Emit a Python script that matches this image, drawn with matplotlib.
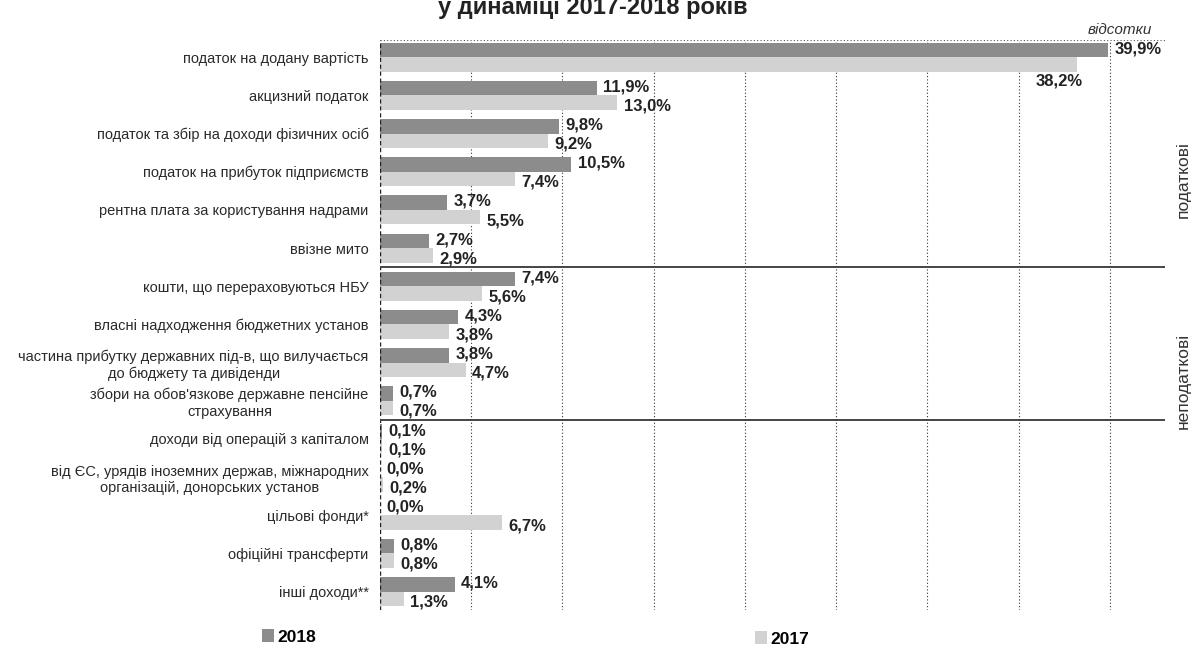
import numpy as np
import matplotlib
matplotlib.use("Agg")
import matplotlib.pyplot as plt

plt.rcParams['font.family'] = ['Liberation Sans', 'DejaVu Sans']

# Data
categories = [
    'податок на додану вартість',
    'акцизний податок',
    'податок та збір на доходи фізичних осіб',
    'податок на прибуток підприємств',
    'рентна плата за користування надрами',
    'ввізне мито',
    'кошти, що перераховуються НБУ',
    'власні надходження бюджетних установ',
    'частина прибутку державних під-в, що вилучається\nдо бюджету та дивіденди',
    "збори на обов'язкове державне пенсійне\nстрахування",
    'доходи від операцій з капіталом',
    'від ЄС, урядів іноземних держав, міжнародних\nорганізацій, донорських установ',
    'цільові фонди*',
    'офіційні трансферти',
    'інші доходи**',
]
values_2018 = [39.9, 11.9, 9.8, 10.5, 3.7, 2.7, 7.4, 4.3, 3.8, 0.7, 0.1, 0.0, 0.0, 0.8, 4.1]
values_2017 = [38.2, 13.0, 9.2, 7.4, 5.5, 2.9, 5.6, 3.8, 4.7, 0.7, 0.1, 0.2, 6.7, 0.8, 1.3]
group_names = ['податкові', 'неподаткові']

fig = plt.figure(figsize=(12.02, 6.51), dpi=100)
ax = fig.add_axes([0.316, 0.063, 0.653, 0.8756])

y = np.arange(len(categories))
h = 0.38

b18 = ax.barh(y - 0.19, values_2018, height=h, color='#8c8c8c', label='2018')
b17 = ax.barh(y + 0.19, values_2017, height=h, color='#d2d2d2', label='2017')

def fmt(v):
    return f'{v:.1f}%'.replace('.', ',')

for i, v in enumerate(values_2018):
    ax.text(v + 0.35, i - 0.22, fmt(v), va='center', ha='left',
            fontsize=12, fontweight='bold', color='#222222')
for i, v in enumerate(values_2017):
    if v > 35:
        ax.text(v + 0.3, i + 0.62, fmt(v), va='center', ha='right',
                fontsize=12, fontweight='bold', color='#222222')
    else:
        ax.text(v + 0.35, i + 0.28, fmt(v), va='center', ha='left',
                fontsize=12, fontweight='bold', color='#222222')

ax.set_xlim(0, 43)
ax.set_ylim(14.48, -0.45)

# grid
for gx in range(5, 45, 5):
    ax.axvline(gx, color='#333333', lw=0.8, ls=(0, (1, 2)), zorder=0)
ax.axhline(-0.45, color='#555555', lw=0.8, ls=(0, (1, 2)))
ax.axvline(0, color='#222222', lw=1.0, ls=(0, (3, 2)))

# group separators
for sy in [5.5, 9.5]:
    ax.axhline(sy, color='#444444', lw=1.4)

ax.set_yticks(y)
ax.set_yticklabels(categories, fontsize=10.5, color='#2a2a2a', multialignment='center')
ax.tick_params(axis='y', length=0, pad=8)
ax.set_xticks([])
for s in ax.spines.values():
    s.set_visible(False)

# group labels
fig.text(0.984, 1 - 180 / 651, group_names[0], rotation=90, ha='center', va='center',
         fontsize=12.5, color='#333333')
fig.text(0.984, 1 - 381 / 651, group_names[1], rotation=90, ha='center', va='center',
         fontsize=12.5, color='#333333')

fig.text(0.932, 1 - 30 / 651, 'відсотки', style='italic', ha='center', va='center',
         fontsize=11, color='#333333')

# title (cut off at the top in the scan)
fig.text(0.493, 1 - 14 / 651, 'у динаміці 2017-2018 років', ha='center', va='baseline',
         fontsize=17, fontweight='bold', color='#222222')

# legend
fig.legend(handles=[b18], labels=['2018'], loc='center left',
           bbox_to_anchor=(0.212, 1 - 637 / 651), frameon=False,
           prop={'weight': 'bold', 'size': 12.5}, handlelength=0.7, handleheight=0.7,
           handletextpad=0.2, borderaxespad=0)
fig.legend(handles=[b17], labels=['2017'], loc='center left',
           bbox_to_anchor=(0.622, 1 - 639 / 651), frameon=False,
           prop={'weight': 'bold', 'size': 12.5}, handlelength=0.7, handleheight=0.7,
           handletextpad=0.2, borderaxespad=0)

fig.savefig('out.png', dpi=100)
